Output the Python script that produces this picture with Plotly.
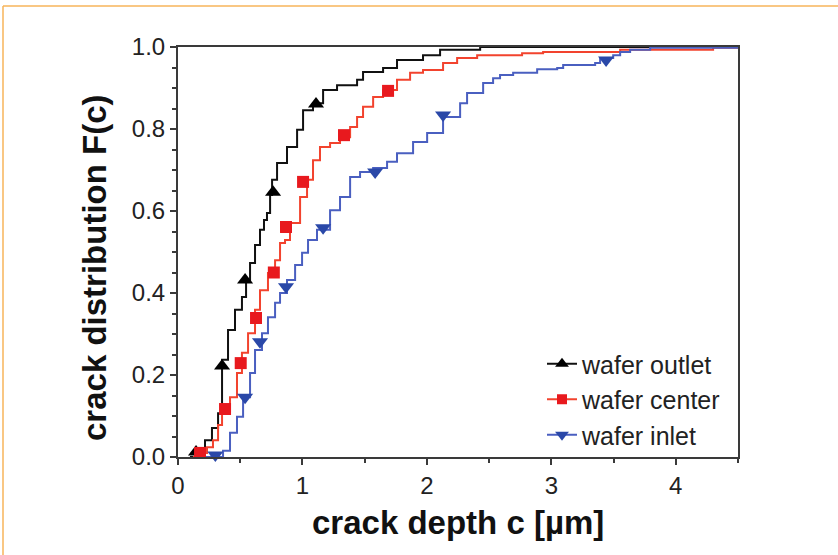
import plotly.graph_objects as go

# Step-curve vertices (crack depth in µm, cumulative fraction)
outlet_x = [0.096, 0.153, 0.217, 0.273, 0.322, 0.354, 0.354, 0.402, 0.458, 0.514, 0.547, 0.579,
            0.619, 0.659, 0.691, 0.715, 0.740, 0.756, 0.796, 0.876, 0.957, 1.005, 1.085, 1.166,
            1.278, 1.439, 1.487, 1.648, 1.760, 1.969, 2.106, 2.428, 4.5]
outlet_y = [0.0, 0.015, 0.041, 0.071, 0.107, 0.188, 0.237, 0.310, 0.359, 0.390, 0.432, 0.473,
            0.517, 0.554, 0.578, 0.595, 0.639, 0.676, 0.717, 0.756, 0.798, 0.846, 0.863, 0.895,
            0.907, 0.920, 0.939, 0.949, 0.968, 0.980, 0.993, 1.0, 1.0]

center_x = [0.120, 0.177, 0.233, 0.281, 0.322, 0.354, 0.418, 0.474, 0.514, 0.563, 0.619, 0.659,
            0.723, 0.780, 0.820, 0.860, 0.900, 0.981, 1.037, 1.085, 1.141, 1.222, 1.302, 1.383,
            1.439, 1.487, 1.568, 1.648, 1.760, 1.865, 1.969, 2.130, 2.243, 2.404, 2.765, 2.934,
            3.553, 4.300, 4.5]
center_y = [0.0, 0.010, 0.024, 0.041, 0.078, 0.107, 0.146, 0.205, 0.254, 0.302, 0.359, 0.407,
            0.449, 0.480, 0.522, 0.529, 0.571, 0.634, 0.676, 0.724, 0.756, 0.766, 0.780, 0.805,
            0.829, 0.854, 0.878, 0.895, 0.920, 0.937, 0.944, 0.961, 0.973, 0.980, 0.985, 0.988,
            0.993, 0.998, 1.0]

inlet_x = [0.217, 0.362, 0.418, 0.474, 0.523, 0.579, 0.619, 0.675, 0.723, 0.780, 0.820, 0.876,
           0.941, 0.997, 1.045, 1.117, 1.222, 1.302, 1.383, 1.463, 1.568, 1.680, 1.760, 1.889,
           2.002, 2.130, 2.267, 2.323, 2.452, 2.532, 2.588, 2.693, 2.886, 3.047, 3.095, 3.352,
           3.392, 3.497, 3.553, 3.633, 3.794, 4.5]
inlet_y = [0.0, 0.015, 0.059, 0.098, 0.146, 0.205, 0.261, 0.302, 0.341, 0.376, 0.400, 0.432,
           0.468, 0.498, 0.529, 0.554, 0.602, 0.634, 0.683, 0.695, 0.705, 0.720, 0.741, 0.768,
           0.790, 0.829, 0.863, 0.888, 0.912, 0.924, 0.932, 0.937, 0.946, 0.949, 0.956, 0.961,
           0.973, 0.980, 0.988, 0.993, 0.998, 1.0]

# Marker positions
outlet_mx = [0.145, 0.354, 0.539, 0.764, 1.109]
outlet_my = [0.012, 0.222, 0.432, 0.646, 0.861]
center_mx = [0.177, 0.378, 0.504, 0.627, 0.770, 0.868, 1.005, 1.334, 1.688]
center_my = [0.010, 0.117, 0.229, 0.339, 0.450, 0.561, 0.671, 0.785, 0.893]
inlet_mx = [0.300, 0.539, 0.659, 0.868, 1.166, 1.584, 2.130, 3.440]
inlet_my = [0.005, 0.146, 0.281, 0.415, 0.559, 0.695, 0.834, 0.968]

names = ["wafer outlet", "wafer center", "wafer inlet"]
x_title = "crack depth c [µm]"
y_title = "crack distribution F(c)"

line_colors = ["#111111", "#f2432e", "#4a5fc0"]
marker_colors = ["#000000", "#e8191e", "#2a48a8"]
symbols = ["triangle-up", "square", "triangle-down"]
msizes = [14, 12, 14]

series = [(outlet_x, outlet_y, outlet_mx, outlet_my),
          (center_x, center_y, center_mx, center_my),
          (inlet_x, inlet_y, inlet_mx, inlet_my)]

FONT = "Liberation Sans, Arial"

fig = go.Figure()
for i, (sx, sy, mx, my) in enumerate(series):
    fig.add_trace(go.Scatter(x=sx, y=sy, mode="lines", line=dict(color=line_colors[i], width=2, shape="hv"),
                             showlegend=False, hoverinfo="skip", cliponaxis=False))
for i, (sx, sy, mx, my) in enumerate(series):
    fig.add_trace(go.Scatter(x=mx, y=my, mode="markers",
                             marker=dict(symbol=symbols[i], size=msizes[i], color=marker_colors[i], line=dict(width=0)),
                             showlegend=False, cliponaxis=False))
for i in range(3):
    fig.add_trace(go.Scatter(x=[None], y=[None], mode="lines+markers", name=names[i],
                             line=dict(color=line_colors[i], width=2),
                             marker=dict(symbol=symbols[i], size=msizes[i] - 2, color=marker_colors[i], line=dict(width=0))))

axis_common = dict(showline=True, linecolor="#3a3a3a", linewidth=2, mirror=True, ticks="outside",
                   ticklen=6, tickwidth=2, tickcolor="#3a3a3a", showgrid=False, zeroline=False,
                   tickfont=dict(family=FONT, size=24, color="#222222"))

fig.update_xaxes(range=[0, 4.5], dtick=1, tick0=0,
                 minor=dict(dtick=0.5, ticks="outside", ticklen=4, tickwidth=2, tickcolor="#3a3a3a"),
                 **axis_common)
fig.update_yaxes(range=[0, 1.0], dtick=0.2, tick0=0, tickformat=".1f",
                 minor=dict(dtick=0.05, ticks="outside", ticklen=4, tickwidth=2, tickcolor="#3a3a3a"),
                 **axis_common)

L, R, T, B = 178, 100, 47, 98
W, H = 838, 555
pw, ph = W - L - R, H - T - B

def px(xp):
    return (xp - L) / pw

def py(yp):
    return (H - B - yp) / ph

# axis titles
fig.add_annotation(text="<b>" + x_title + "</b>", xref="paper", yref="paper", x=px(458), y=py(522),
                   xanchor="center", yanchor="middle", showarrow=False,
                   font=dict(family=FONT, size=33, color="#111111"))
fig.add_annotation(text="<b>" + y_title + "</b>", xref="paper", yref="paper", x=px(94), y=py(268),
                   xanchor="center", yanchor="middle", showarrow=False, textangle=-90,
                   font=dict(family=FONT, size=33, color="#111111"))

# light orange page frame
fig.add_shape(type="line", xref="paper", yref="paper", x0=px(3), x1=px(3), y0=py(560), y1=py(6),
              line=dict(color="#f7b45a", width=1.5), layer="below")
fig.add_shape(type="line", xref="paper", yref="paper", x0=px(3), x1=px(845), y0=py(6), y1=py(6),
              line=dict(color="#f7b45a", width=1.5), layer="below")

fig.update_layout(
    width=W, height=H,
    margin=dict(l=L, r=R, t=T, b=B),
    paper_bgcolor="white", plot_bgcolor="white",
    font=dict(family=FONT, color="#222222"),
    legend=dict(x=px(542), y=py(341), xanchor="left", yanchor="top",
                bgcolor="rgba(0,0,0,0)", font=dict(family=FONT, size=25, color="#222222"),
                tracegroupgap=0, itemwidth=30),
)

fig.write_html("out.html")
